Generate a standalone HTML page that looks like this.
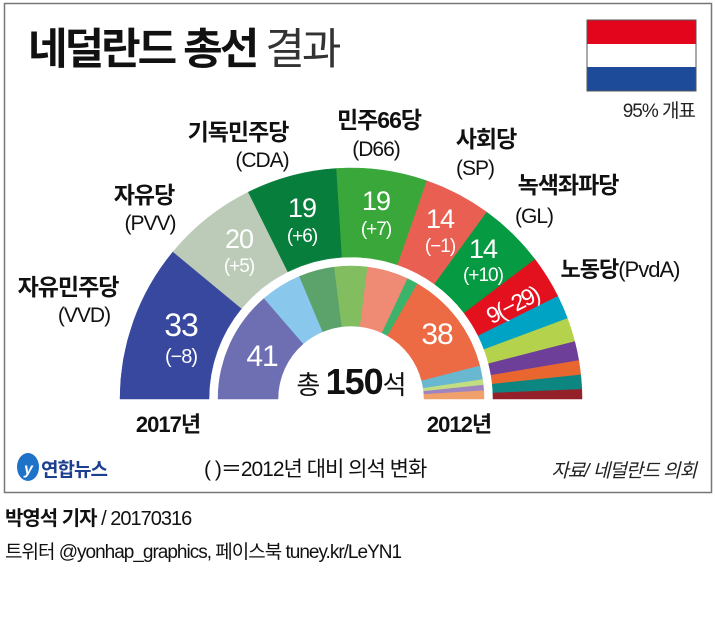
<!DOCTYPE html>
<html><head><meta charset="utf-8"><style>
body{margin:0;background:#fff;}
svg{display:block;font-family:"Liberation Sans","Noto Sans CJK KR",sans-serif;}
</style></head><body>
<svg id="s" width="715" height="631" viewBox="0 0 715 631" xmlns="http://www.w3.org/2000/svg">
<rect x="4.5" y="3.5" width="707" height="489" fill="#fff" stroke="#777" stroke-width="1.5"/>
<text x="28" y="64" font-size="43" font-weight="bold" fill="#111" letter-spacing="-3">네덜란드 총선 <tspan font-weight="normal" fill="#333">결과</tspan></text>
<rect x="587" y="20" width="109" height="24" fill="#e3051b"/>
<rect x="587" y="44" width="109" height="23" fill="#fff"/>
<rect x="587" y="67" width="109" height="24" fill="#1e4a9a"/>
<rect x="587" y="20" width="109" height="71" fill="none" stroke="#555" stroke-width="1"/>
<text x="695" y="117" font-size="19" text-anchor="end" fill="#222" letter-spacing="-1">95% 개표</text>
<g id="rings"></g>
<g font-size="21" text-anchor="middle" fill="#111" letter-spacing="-1">
<text x="68" y="295" font-weight="bold" font-size="23">자유민주당</text><text x="84" y="322">(VVD)</text>
<text x="144" y="203" font-weight="bold" font-size="23">자유당</text><text x="150" y="230">(PVV)</text>
<text x="238" y="140" font-weight="bold" font-size="23">기독민주당</text><text x="262" y="167">(CDA)</text>
<text x="379" y="128" font-weight="bold" font-size="23">민주66당</text><text x="376" y="156">(D66)</text>
<text x="486" y="147" font-weight="bold" font-size="23">사회당</text><text x="475" y="175">(SP)</text>
<text x="568" y="193" font-weight="bold" font-size="23">녹색좌파당</text><text x="534" y="223">(GL)</text>
<text x="620" y="277" font-size="22"><tspan font-weight="bold">노동당</tspan>(PvdA)</text>
</g>
<g fill="#fff" text-anchor="middle" letter-spacing="-1">
<text x="181" y="336" font-size="32">33</text><text x="181" y="363" font-size="20">(−8)</text>
<text x="239" y="248" font-size="27">20</text><text x="239" y="272" font-size="19">(+5)</text>
<text x="302" y="217" font-size="27">19</text><text x="302" y="242" font-size="19">(+6)</text>
<text x="376" y="210" font-size="27">19</text><text x="376" y="235" font-size="19">(+7)</text>
<text x="440" y="228" font-size="27">14</text><text x="440" y="252" font-size="19">(−1)</text>
<text x="483" y="258" font-size="27">14</text><text x="483" y="281" font-size="19">(+10)</text>
<text x="262" y="366" font-size="30">41</text>
<text x="437" y="344" font-size="30">38</text>
<text x="516" y="312" font-size="23" letter-spacing="-2" transform="rotate(-27 516 312)">9(−29)</text>
</g>
<text x="351" y="394" font-size="26" text-anchor="middle" fill="#111" letter-spacing="-1">총 <tspan font-size="36" font-weight="bold">150</tspan>석</text>
<text x="168" y="432" font-size="22" text-anchor="middle" font-weight="bold" fill="#111" letter-spacing="-1">2017년</text>
<text x="459" y="432" font-size="22" text-anchor="middle" font-weight="bold" fill="#111" letter-spacing="-1">2012년</text>
<ellipse cx="28" cy="467" rx="11" ry="14" fill="#1e73c8"/>
<text x="24" y="474" font-size="16" fill="#fff" font-style="italic" font-weight="bold">y</text>
<text x="41" y="476" font-size="19" font-weight="bold" fill="#1d3f8f" letter-spacing="-1">연합뉴스</text>
<text x="204" y="476" font-size="21" fill="#111" letter-spacing="-1">( )＝2012년 대비 의석 변화</text>
<text x="696" y="477" font-size="19" text-anchor="end" fill="#222" font-style="italic" letter-spacing="-1">자료/ 네덜란드 의회</text>
<text x="5" y="525" font-size="20" fill="#111" letter-spacing="-1"><tspan font-weight="bold">박영석 기자</tspan> / 20170316</text>
<text x="5" y="558" font-size="19" fill="#111" letter-spacing="-1">트위터 @yonhap_graphics, 페이스북 tuney.kr/LeYN1</text>
</svg>
<script>
(function(){
var cx=351,cy=399,g=document.getElementById('rings'),NS="http://www.w3.org/2000/svg";
function ring(r1,r2,data){var c=0;data.forEach(function(d){var a0=Math.PI-Math.PI*c/150;c+=d[0];var a1=Math.PI-Math.PI*c/150;
var p=function(r,a){return (cx+r*Math.cos(a)).toFixed(2)+","+(cy-r*Math.sin(a)).toFixed(2);};
var el=document.createElementNS(NS,"path");
el.setAttribute("d","M"+p(r2,a0)+"A"+r2+","+r2+" 0 0 1 "+p(r2,a1)+"L"+p(r1,a1)+"A"+r1+","+r1+" 0 0 0 "+p(r1,a0)+"Z");
el.setAttribute("fill",d[1]);el.setAttribute("stroke",d[1]);el.setAttribute("stroke-width","0.5");g.appendChild(el);});}
ring(142,231,[[33,"#38489e"],[20,"#bccbb8"],[19,"#077e3c"],[19,"#3aa73a"],[14,"#e96053"],[14,"#069b42"],[9,"#e3101d"],[5,"#00a3c4"],[5,"#b5d24c"],[4,"#6d3f98"],[3,"#e9672e"],[3,"#0d8580"],[2,"#94212a"]]);
ring(73,133,[[41,"#6d6fb2"],[15,"#89c7ec"],[13,"#5ba36b"],[12,"#82bd5f"],[15,"#ef8a74"],[4,"#3bb36a"],[38,"#ec6a44"],[5,"#69b8cf"],[2,"#c2dd82"],[2,"#9e84c0"],[3,"#f0a06a"]]);
})();
</script>
</body></html>
